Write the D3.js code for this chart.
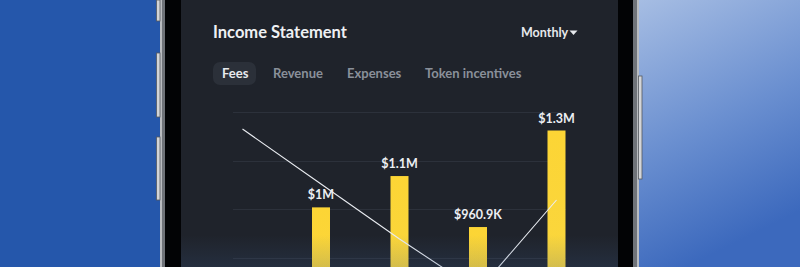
<!DOCTYPE html>
<html>
<head>
<meta charset="utf-8">
<script src="https://cdn.jsdelivr.net/npm/d3@7"></script>
<style>
  html, body { margin: 0; padding: 0; background: #2557ab; }
  svg { display: block; font-family: Lato, "Open Sans", sans-serif; }
</style>
</head>
<body>
<div id="chart"></div>
<script>
// chart data
const months = ['M1', 'M2', 'M3', 'M4', 'M5'];
const fees = [null, 1030000, 1140000, 960900, 1300000]; // bar series (first month has no bar)
const trend = [85.5, 58, 30.5, 4.5, 50]; // white line series
const tabs = ['Fees', 'Revenue', 'Expenses', 'Token incentives'];
const tabX = [222, 273, 347, 425];
const gridCount = 8;

const width = 800, height = 267;

const svg = d3.select('#chart')
  .append('svg')
  .attr('width', width)
  .attr('height', height);

const defs = svg.append('defs');

// background on the right side of the phone
const bgGrad = defs.append('linearGradient')
  .attr('id', 'bgRight')
  .attr('x1', '0').attr('y1', '0').attr('x2', '0.3').attr('y2', '1');
bgGrad.append('stop').attr('offset', '0%').attr('stop-color', '#a6bde3');
bgGrad.append('stop').attr('offset', '55%').attr('stop-color', '#6a8fd0');
bgGrad.append('stop').attr('offset', '100%').attr('stop-color', '#3c69bd');

const barGrad = defs.append('linearGradient')
  .attr('id', 'barFill')
  .attr('x1', '0').attr('y1', '0').attr('x2', '0').attr('y2', '1');
barGrad.append('stop').attr('offset', '0%').attr('stop-color', '#fcd535');
barGrad.append('stop').attr('offset', '100%').attr('stop-color', '#f6d84c');

const glow = defs.append('linearGradient')
  .attr('id', 'glow')
  .attr('x1', '0').attr('y1', '0').attr('x2', '0').attr('y2', '1');
glow.append('stop').attr('offset', '0%').attr('stop-color', '#3a5a8c').attr('stop-opacity', 0);
glow.append('stop').attr('offset', '100%').attr('stop-color', '#3a5a8c').attr('stop-opacity', 0.2);

svg.append('rect').attr('x', 0).attr('y', 0).attr('width', 160).attr('height', height).attr('fill', '#2557ab');
svg.append('rect').attr('x', 638).attr('y', 0).attr('width', 162).attr('height', height).attr('fill', 'url(#bgRight)');

// phone frame
svg.append('rect').attr('x', 160).attr('y', 0).attr('width', 479).attr('height', height).attr('fill', '#b9bcc0');
svg.append('rect').attr('x', 162).attr('y', 0).attr('width', 475).attr('height', height).attr('fill', '#6f7379');
svg.append('rect').attr('x', 165).attr('y', 0).attr('width', 468).attr('height', height).attr('fill', '#020305');

// side buttons
[[0, 21], [53, 117], [137, 200]].forEach(([a, b]) => {
  svg.append('rect').attr('x', 156.5).attr('y', a).attr('width', 3.5).attr('height', b - a)
    .attr('fill', '#d3d5d8').attr('stroke', '#55595f').attr('stroke-width', 0.8);
});
svg.append('rect').attr('x', 638.5).attr('y', 76).attr('width', 3.5).attr('height', 103)
  .attr('fill', '#d3d5d8').attr('stroke', '#55595f').attr('stroke-width', 0.8);

// screen
svg.append('rect').attr('x', 181).attr('y', 0).attr('width', 437).attr('height', height).attr('fill', '#1f232b');

// header
svg.append('text')
  .attr('x', 213).attr('y', 38)
  .style('font-size', '16.5px').style('font-weight', 700)
  .style('fill', '#eef0f3')
  .text('Income Statement');

svg.append('text')
  .attr('x', 521).attr('y', 37)
  .style('font-size', '12.5px').style('font-weight', 700)
  .style('fill', '#e6e8ec')
  .text('Monthly');
svg.append('path')
  .attr('d', 'M569.5,30.5 L577.5,30.5 L573.5,35 Z')
  .attr('fill', '#e6e8ec');

// tabs
svg.append('rect')
  .attr('x', 213).attr('y', 62).attr('width', 43).attr('height', 23).attr('rx', 7)
  .attr('fill', '#2b3039');
svg.selectAll('text.tab')
  .data(tabs)
  .enter()
  .append('text')
  .attr('class', 'tab')
  .attr('x', (d, i) => tabX[i]).attr('y', 78)
  .style('font-size', '13px').style('font-weight', 700)
  .style('fill', (d, i) => i === 0 ? '#e8eaee' : '#8a909a')
  .text(d => d);

// scales
const x = d3.scalePoint().domain(months).range([242.5, 556.5]);
const yMax = d3.max(fees) * 1.05;
const y = d3.scaleLinear().domain([0, yMax]).range([500.6, 112]);
const y2 = d3.scaleLinear().domain([0, 100]).range([300, 100]);

// gridlines
const gridVals = d3.range(1, gridCount + 1).map(i => yMax * i / gridCount);
svg.selectAll('line.grid')
  .data(gridVals)
  .enter()
  .append('line')
  .attr('class', 'grid')
  .attr('x1', 233).attr('x2', 566)
  .attr('y1', d => Math.round(y(d)) + 0.5)
  .attr('y2', d => Math.round(y(d)) + 0.5)
  .attr('stroke', '#2c313b')
  .attr('stroke-width', 1);

// bars
const barData = fees.map((v, i) => ({ m: months[i], v })).filter(d => d.v != null);
const barW = 18;
svg.selectAll('rect.bar')
  .data(barData)
  .enter()
  .append('rect')
  .attr('class', 'bar')
  .attr('x', d => x(d.m) - barW / 2)
  .attr('y', d => y(d.v))
  .attr('width', barW)
  .attr('height', d => y(0) - y(d.v))
  .attr('fill', 'url(#barFill)');

// value labels
const fmt = v => {
  if (v >= 1e6) return '$' + (v / 1e6).toFixed(1).replace(/\.0$/, '') + 'M';
  return '$' + (v / 1e3).toFixed(1).replace(/\.0$/, '') + 'K';
};
svg.selectAll('text.val')
  .data(barData)
  .enter()
  .append('text')
  .attr('class', 'val')
  .attr('x', d => x(d.m))
  .attr('y', d => y(d.v) - 8)
  .attr('text-anchor', 'middle')
  .style('font-size', '12.5px').style('font-weight', 700)
  .style('fill', '#eceef2')
  .text(d => fmt(d.v));

// line
const line = d3.line()
  .x((d, i) => x(months[i]))
  .y(d => y2(d));
svg.append('path')
  .datum(trend)
  .attr('d', line)
  .attr('fill', 'none')
  .attr('stroke', '#e9ecf1')
  .attr('stroke-width', 1.1);

// bottom glow of the screen
svg.append('rect').attr('x', 181).attr('y', 235).attr('width', 437).attr('height', 32).attr('fill', 'url(#glow)');
</script>
</body>
</html>
